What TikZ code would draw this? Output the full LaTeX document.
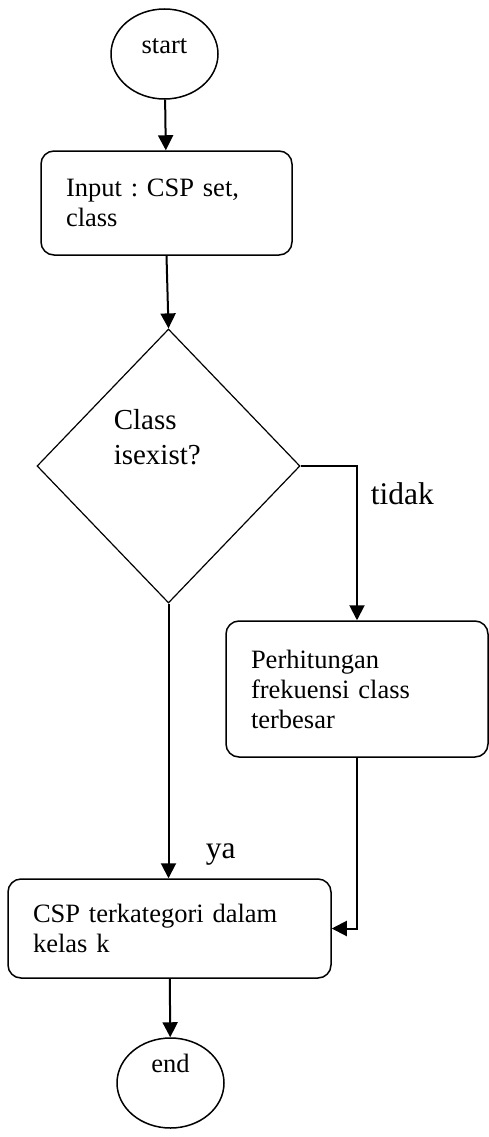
\documentclass[tikz,border=0pt]{standalone}
\usepackage{fontspec}
\setmainfont{Liberation Serif}
\usetikzlibrary{shapes.geometric,arrows.meta}
\frenchspacing
\begin{document}
\begin{tikzpicture}[x=1pt,y=-1pt,line width=1.5pt]

  \tikzset{
    term/.style  = {draw, ellipse, minimum width=107pt, minimum height=90pt,
                    inner sep=0pt, font=\fontsize{26.5}{30}\selectfont},
    proc/.style  = {draw, rounded corners=13pt, align=left, inner xsep=25pt,
                    inner ysep=0pt, font=\fontsize{26.5}{30}\selectfont},
    dec/.style   = {draw, diamond, inner sep=0pt, line width=1.2pt},
    dtext/.style = {align=left, inner sep=0pt, text width=100pt,
                    font=\fontsize{29}{35}\selectfont},
    lbl/.style   = {inner sep=0pt, font=\fontsize{31.5}{36}\selectfont},
    flow/.style  = {line width=2pt, -{Triangle[length=15pt,width=15pt]}},
  }

  \useasboundingbox (0,0) rectangle (489,1137);

  % ---- shapes -----------------------------------------------------------
  \node[term, text height=16pt, text depth=16pt] (start) at (164.5,54) {start};

  \node[proc, text width=201pt, minimum height=104pt] (input) at (166.5,203)
    {Input : CSP set,\\class};

  \node[dec, minimum width=263pt, minimum height=274pt] (cls) at (168.5,466) {};
  \node[dtext, anchor=base west] (clstext) at (113,429) {Class\\isexist?};

  \node[proc, text width=212pt, minimum height=136pt] (count) at (357,689)
    {Perhitungan\\frekuensi class\\terbesar};

  \node[proc, text width=273pt, minimum height=99pt] (result) at (169.5,928.5)
    {CSP terkategori dalam\\kelas k};

  \node[term, text height=16pt, text depth=38pt] (stop) at (170.5,1083) {end};

  % ---- connectors -------------------------------------------------------
  \draw[flow] (start) -- (input);
  \draw[flow] (input.south) -- (cls.north);
  \draw[flow] (cls.east) -| (count.north);
  \draw[flow] (cls.south) -- (cls.south |- result.north);
  \draw[flow] (count.south) |- (result.east);
  \draw[flow] (result) -- (stop);

  \node[lbl, anchor=base west] (no)  at (370,504) {tidak};
  \node[lbl, anchor=base west] (yes) at (205,858) {ya};

\end{tikzpicture}
\end{document}
